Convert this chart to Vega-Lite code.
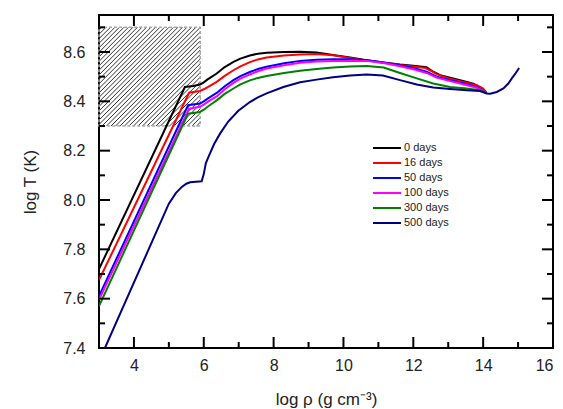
{
  "$schema": "https://vega.github.io/schema/vega-lite/v6.json",
  "width": 454,
  "height": 333,
  "autosize": "none",
  "padding": {"left": 99, "top": 15, "right": 10, "bottom": 61},
  "background": "white",
  "config": {
    "view": {"stroke": "black", "strokeWidth": 2},
    "font": "Liberation Sans",
    "axis": {
      "grid": false,
      "domain": false,
      "ticks": false,
      "tickSize": 0,
      "labelFont": "Liberation Sans",
      "titleFont": "Liberation Sans",
      "labelColor": "#222",
      "titleColor": "#222",
      "labelFontSize": 16,
      "titleFontSize": 17,
      "titleFontWeight": "normal"
    },
    "legend": {"labelFont": "Liberation Sans"}
  },
  "datasets": {
    "hatch": [
      {"x": 3, "y": 8.690, "x2": 3.069, "y2": 8.7},
      {"x": 3, "y": 8.672, "x2": 3.198, "y2": 8.7},
      {"x": 3, "y": 8.654, "x2": 3.326, "y2": 8.7},
      {"x": 3, "y": 8.635, "x2": 3.455, "y2": 8.7},
      {"x": 3, "y": 8.617, "x2": 3.584, "y2": 8.7},
      {"x": 3, "y": 8.599, "x2": 3.713, "y2": 8.7},
      {"x": 3, "y": 8.580, "x2": 3.842, "y2": 8.7},
      {"x": 3, "y": 8.562, "x2": 3.971, "y2": 8.7},
      {"x": 3, "y": 8.544, "x2": 4.100, "y2": 8.7},
      {"x": 3, "y": 8.526, "x2": 4.229, "y2": 8.7},
      {"x": 3, "y": 8.507, "x2": 4.357, "y2": 8.7},
      {"x": 3, "y": 8.489, "x2": 4.486, "y2": 8.7},
      {"x": 3, "y": 8.471, "x2": 4.615, "y2": 8.7},
      {"x": 3, "y": 8.452, "x2": 4.744, "y2": 8.7},
      {"x": 3, "y": 8.434, "x2": 4.873, "y2": 8.7},
      {"x": 3, "y": 8.416, "x2": 5.002, "y2": 8.7},
      {"x": 3, "y": 8.398, "x2": 5.131, "y2": 8.7},
      {"x": 3, "y": 8.379, "x2": 5.259, "y2": 8.7},
      {"x": 3, "y": 8.361, "x2": 5.388, "y2": 8.7},
      {"x": 3, "y": 8.343, "x2": 5.517, "y2": 8.7},
      {"x": 3, "y": 8.324, "x2": 5.646, "y2": 8.7},
      {"x": 3, "y": 8.306, "x2": 5.775, "y2": 8.7},
      {"x": 3.086, "y": 8.3, "x2": 5.9, "y2": 8.700},
      {"x": 3.215, "y": 8.3, "x2": 5.9, "y2": 8.681},
      {"x": 3.344, "y": 8.3, "x2": 5.9, "y2": 8.663},
      {"x": 3.473, "y": 8.3, "x2": 5.9, "y2": 8.645},
      {"x": 3.601, "y": 8.3, "x2": 5.9, "y2": 8.626},
      {"x": 3.730, "y": 8.3, "x2": 5.9, "y2": 8.608},
      {"x": 3.859, "y": 8.3, "x2": 5.9, "y2": 8.590},
      {"x": 3.988, "y": 8.3, "x2": 5.9, "y2": 8.572},
      {"x": 4.117, "y": 8.3, "x2": 5.9, "y2": 8.553},
      {"x": 4.246, "y": 8.3, "x2": 5.9, "y2": 8.535},
      {"x": 4.375, "y": 8.3, "x2": 5.9, "y2": 8.517},
      {"x": 4.503, "y": 8.3, "x2": 5.9, "y2": 8.498},
      {"x": 4.632, "y": 8.3, "x2": 5.9, "y2": 8.480},
      {"x": 4.761, "y": 8.3, "x2": 5.9, "y2": 8.462},
      {"x": 4.890, "y": 8.3, "x2": 5.9, "y2": 8.443},
      {"x": 5.019, "y": 8.3, "x2": 5.9, "y2": 8.425},
      {"x": 5.148, "y": 8.3, "x2": 5.9, "y2": 8.407},
      {"x": 5.277, "y": 8.3, "x2": 5.9, "y2": 8.389},
      {"x": 5.405, "y": 8.3, "x2": 5.9, "y2": 8.370},
      {"x": 5.534, "y": 8.3, "x2": 5.9, "y2": 8.352},
      {"x": 5.663, "y": 8.3, "x2": 5.9, "y2": 8.334},
      {"x": 5.792, "y": 8.3, "x2": 5.9, "y2": 8.315}
    ],
    "box": [{"x": 3, "x2": 5.9, "y": 8.3, "y2": 8.7}],
    "tk": [
      {"id": "b4", "x": 4, "y": 7.4}, {"id": "b4", "x": 4, "y": 7.4446},
      {"id": "b6", "x": 6, "y": 7.4}, {"id": "b6", "x": 6, "y": 7.4446},
      {"id": "b8", "x": 8, "y": 7.4}, {"id": "b8", "x": 8, "y": 7.4446},
      {"id": "b10", "x": 10, "y": 7.4}, {"id": "b10", "x": 10, "y": 7.4446},
      {"id": "b12", "x": 12, "y": 7.4}, {"id": "b12", "x": 12, "y": 7.4446},
      {"id": "b14", "x": 14, "y": 7.4}, {"id": "b14", "x": 14, "y": 7.4446},
      {"id": "b5", "x": 5, "y": 7.4}, {"id": "b5", "x": 5, "y": 7.4243},
      {"id": "b7", "x": 7, "y": 7.4}, {"id": "b7", "x": 7, "y": 7.4243},
      {"id": "b9", "x": 9, "y": 7.4}, {"id": "b9", "x": 9, "y": 7.4243},
      {"id": "b11", "x": 11, "y": 7.4}, {"id": "b11", "x": 11, "y": 7.4243},
      {"id": "b13", "x": 13, "y": 7.4}, {"id": "b13", "x": 13, "y": 7.4243},
      {"id": "b15", "x": 15, "y": 7.4}, {"id": "b15", "x": 15, "y": 7.4243},
      {"id": "t4", "x": 4, "y": 8.75}, {"id": "t4", "x": 4, "y": 8.7054},
      {"id": "t6", "x": 6, "y": 8.75}, {"id": "t6", "x": 6, "y": 8.7054},
      {"id": "t8", "x": 8, "y": 8.75}, {"id": "t8", "x": 8, "y": 8.7054},
      {"id": "t10", "x": 10, "y": 8.75}, {"id": "t10", "x": 10, "y": 8.7054},
      {"id": "t12", "x": 12, "y": 8.75}, {"id": "t12", "x": 12, "y": 8.7054},
      {"id": "t14", "x": 14, "y": 8.75}, {"id": "t14", "x": 14, "y": 8.7054},
      {"id": "t5", "x": 5, "y": 8.75}, {"id": "t5", "x": 5, "y": 8.7257},
      {"id": "t7", "x": 7, "y": 8.75}, {"id": "t7", "x": 7, "y": 8.7257},
      {"id": "t9", "x": 9, "y": 8.75}, {"id": "t9", "x": 9, "y": 8.7257},
      {"id": "t11", "x": 11, "y": 8.75}, {"id": "t11", "x": 11, "y": 8.7257},
      {"id": "t13", "x": 13, "y": 8.75}, {"id": "t13", "x": 13, "y": 8.7257},
      {"id": "t15", "x": 15, "y": 8.75}, {"id": "t15", "x": 15, "y": 8.7257},
      {"id": "l76", "x": 3, "y": 7.6}, {"id": "l76", "x": 3.315, "y": 7.6},
      {"id": "l78", "x": 3, "y": 7.8}, {"id": "l78", "x": 3.315, "y": 7.8},
      {"id": "l80", "x": 3, "y": 8.0}, {"id": "l80", "x": 3.315, "y": 8.0},
      {"id": "l82", "x": 3, "y": 8.2}, {"id": "l82", "x": 3.315, "y": 8.2},
      {"id": "l84", "x": 3, "y": 8.4}, {"id": "l84", "x": 3.315, "y": 8.4},
      {"id": "l86", "x": 3, "y": 8.6}, {"id": "l86", "x": 3.315, "y": 8.6},
      {"id": "l75", "x": 3, "y": 7.5}, {"id": "l75", "x": 3.172, "y": 7.5},
      {"id": "l77", "x": 3, "y": 7.7}, {"id": "l77", "x": 3.172, "y": 7.7},
      {"id": "l79", "x": 3, "y": 7.9}, {"id": "l79", "x": 3.172, "y": 7.9},
      {"id": "l81", "x": 3, "y": 8.1}, {"id": "l81", "x": 3.172, "y": 8.1},
      {"id": "l83", "x": 3, "y": 8.3}, {"id": "l83", "x": 3.172, "y": 8.3},
      {"id": "l85", "x": 3, "y": 8.5}, {"id": "l85", "x": 3.172, "y": 8.5},
      {"id": "l87", "x": 3, "y": 8.7}, {"id": "l87", "x": 3.172, "y": 8.7},
      {"id": "r76", "x": 15.685, "y": 7.6}, {"id": "r76", "x": 16, "y": 7.6},
      {"id": "r78", "x": 15.685, "y": 7.8}, {"id": "r78", "x": 16, "y": 7.8},
      {"id": "r80", "x": 15.685, "y": 8.0}, {"id": "r80", "x": 16, "y": 8.0},
      {"id": "r82", "x": 15.685, "y": 8.2}, {"id": "r82", "x": 16, "y": 8.2},
      {"id": "r84", "x": 15.685, "y": 8.4}, {"id": "r84", "x": 16, "y": 8.4},
      {"id": "r86", "x": 15.685, "y": 8.6}, {"id": "r86", "x": 16, "y": 8.6},
      {"id": "r75", "x": 15.828, "y": 7.5}, {"id": "r75", "x": 16, "y": 7.5},
      {"id": "r77", "x": 15.828, "y": 7.7}, {"id": "r77", "x": 16, "y": 7.7},
      {"id": "r79", "x": 15.828, "y": 7.9}, {"id": "r79", "x": 16, "y": 7.9},
      {"id": "r81", "x": 15.828, "y": 8.1}, {"id": "r81", "x": 16, "y": 8.1},
      {"id": "r83", "x": 15.828, "y": 8.3}, {"id": "r83", "x": 16, "y": 8.3},
      {"id": "r85", "x": 15.828, "y": 8.5}, {"id": "r85", "x": 16, "y": 8.5},
      {"id": "r87", "x": 15.828, "y": 8.7}, {"id": "r87", "x": 16, "y": 8.7}
    ],
    "curves": [
      {"s": "0 days", "x": 3, "y": 7.72},
      {"s": "0 days", "x": 5.46, "y": 8.458},
      {"s": "0 days", "x": 5.7, "y": 8.462},
      {"s": "0 days", "x": 5.89, "y": 8.468},
      {"s": "0 days", "x": 6.0, "y": 8.477},
      {"s": "0 days", "x": 6.1, "y": 8.488},
      {"s": "0 days", "x": 6.2, "y": 8.497},
      {"s": "0 days", "x": 6.37, "y": 8.513},
      {"s": "0 days", "x": 6.6, "y": 8.539},
      {"s": "0 days", "x": 6.85, "y": 8.56},
      {"s": "0 days", "x": 7.05, "y": 8.573},
      {"s": "0 days", "x": 7.32, "y": 8.586},
      {"s": "0 days", "x": 7.55, "y": 8.593},
      {"s": "0 days", "x": 7.8, "y": 8.597},
      {"s": "0 days", "x": 8.3, "y": 8.6},
      {"s": "0 days", "x": 8.76, "y": 8.601},
      {"s": "0 days", "x": 9.23, "y": 8.598},
      {"s": "0 days", "x": 9.7, "y": 8.588},
      {"s": "0 days", "x": 10.19, "y": 8.578},
      {"s": "0 days", "x": 10.67, "y": 8.567},
      {"s": "0 days", "x": 11.15, "y": 8.557},
      {"s": "0 days", "x": 11.62, "y": 8.549},
      {"s": "0 days", "x": 12.0, "y": 8.544},
      {"s": "0 days", "x": 12.38, "y": 8.538},
      {"s": "0 days", "x": 12.57, "y": 8.52},
      {"s": "0 days", "x": 12.77, "y": 8.506},
      {"s": "0 days", "x": 13.34, "y": 8.486},
      {"s": "0 days", "x": 13.72, "y": 8.472},
      {"s": "0 days", "x": 13.96, "y": 8.452},
      {"s": "0 days", "x": 14.1, "y": 8.434},
      {"s": "16 days", "x": 3, "y": 7.675},
      {"s": "16 days", "x": 5.58, "y": 8.435},
      {"s": "16 days", "x": 5.89, "y": 8.442},
      {"s": "16 days", "x": 6.0, "y": 8.449},
      {"s": "16 days", "x": 6.1, "y": 8.457},
      {"s": "16 days", "x": 6.2, "y": 8.465},
      {"s": "16 days", "x": 6.37, "y": 8.479},
      {"s": "16 days", "x": 6.6, "y": 8.503},
      {"s": "16 days", "x": 6.85, "y": 8.526},
      {"s": "16 days", "x": 7.05, "y": 8.542},
      {"s": "16 days", "x": 7.32, "y": 8.559},
      {"s": "16 days", "x": 7.55, "y": 8.57},
      {"s": "16 days", "x": 7.8, "y": 8.578},
      {"s": "16 days", "x": 8.3, "y": 8.586},
      {"s": "16 days", "x": 8.76, "y": 8.59},
      {"s": "16 days", "x": 9.23, "y": 8.592},
      {"s": "16 days", "x": 9.7, "y": 8.587},
      {"s": "16 days", "x": 10.19, "y": 8.576},
      {"s": "16 days", "x": 10.67, "y": 8.565},
      {"s": "16 days", "x": 11.15, "y": 8.556},
      {"s": "16 days", "x": 11.62, "y": 8.547},
      {"s": "16 days", "x": 12.0, "y": 8.541},
      {"s": "16 days", "x": 12.35, "y": 8.535},
      {"s": "16 days", "x": 12.5, "y": 8.524},
      {"s": "16 days", "x": 12.67, "y": 8.51},
      {"s": "16 days", "x": 13.0, "y": 8.494},
      {"s": "16 days", "x": 13.34, "y": 8.482},
      {"s": "16 days", "x": 13.82, "y": 8.465},
      {"s": "16 days", "x": 14.0, "y": 8.452},
      {"s": "16 days", "x": 14.1, "y": 8.434},
      {"s": "50 days", "x": 3, "y": 7.61},
      {"s": "50 days", "x": 5.55, "y": 8.384},
      {"s": "50 days", "x": 5.89, "y": 8.391},
      {"s": "50 days", "x": 6.0, "y": 8.4},
      {"s": "50 days", "x": 6.1, "y": 8.41},
      {"s": "50 days", "x": 6.2, "y": 8.419},
      {"s": "50 days", "x": 6.37, "y": 8.434},
      {"s": "50 days", "x": 6.6, "y": 8.461},
      {"s": "50 days", "x": 6.85, "y": 8.486},
      {"s": "50 days", "x": 7.05, "y": 8.502},
      {"s": "50 days", "x": 7.32, "y": 8.519},
      {"s": "50 days", "x": 7.55, "y": 8.531},
      {"s": "50 days", "x": 7.8, "y": 8.54},
      {"s": "50 days", "x": 8.3, "y": 8.554},
      {"s": "50 days", "x": 8.76, "y": 8.564},
      {"s": "50 days", "x": 9.23, "y": 8.569},
      {"s": "50 days", "x": 9.7, "y": 8.571},
      {"s": "50 days", "x": 10.19, "y": 8.571},
      {"s": "50 days", "x": 10.67, "y": 8.567},
      {"s": "50 days", "x": 11.15, "y": 8.557},
      {"s": "50 days", "x": 11.62, "y": 8.545},
      {"s": "50 days", "x": 12.0, "y": 8.535},
      {"s": "50 days", "x": 12.38, "y": 8.52},
      {"s": "50 days", "x": 12.67, "y": 8.5},
      {"s": "50 days", "x": 13.0, "y": 8.488},
      {"s": "50 days", "x": 13.34, "y": 8.476},
      {"s": "50 days", "x": 13.82, "y": 8.458},
      {"s": "50 days", "x": 14.1, "y": 8.434},
      {"s": "100 days", "x": 3, "y": 7.595},
      {"s": "100 days", "x": 5.58, "y": 8.37},
      {"s": "100 days", "x": 5.89, "y": 8.378},
      {"s": "100 days", "x": 6.0, "y": 8.387},
      {"s": "100 days", "x": 6.1, "y": 8.397},
      {"s": "100 days", "x": 6.2, "y": 8.406},
      {"s": "100 days", "x": 6.37, "y": 8.42},
      {"s": "100 days", "x": 6.6, "y": 8.449},
      {"s": "100 days", "x": 6.85, "y": 8.475},
      {"s": "100 days", "x": 7.05, "y": 8.492},
      {"s": "100 days", "x": 7.32, "y": 8.509},
      {"s": "100 days", "x": 7.55, "y": 8.522},
      {"s": "100 days", "x": 7.8, "y": 8.533},
      {"s": "100 days", "x": 8.3, "y": 8.546},
      {"s": "100 days", "x": 8.76, "y": 8.556},
      {"s": "100 days", "x": 9.23, "y": 8.561},
      {"s": "100 days", "x": 9.7, "y": 8.564},
      {"s": "100 days", "x": 10.19, "y": 8.565},
      {"s": "100 days", "x": 10.67, "y": 8.564},
      {"s": "100 days", "x": 11.15, "y": 8.555},
      {"s": "100 days", "x": 11.62, "y": 8.542},
      {"s": "100 days", "x": 12.0, "y": 8.53},
      {"s": "100 days", "x": 12.38, "y": 8.515},
      {"s": "100 days", "x": 12.67, "y": 8.496},
      {"s": "100 days", "x": 13.0, "y": 8.484},
      {"s": "100 days", "x": 13.34, "y": 8.472},
      {"s": "100 days", "x": 13.82, "y": 8.455},
      {"s": "100 days", "x": 14.1, "y": 8.434},
      {"s": "300 days", "x": 3, "y": 7.57},
      {"s": "300 days", "x": 5.55, "y": 8.35},
      {"s": "300 days", "x": 5.89, "y": 8.357},
      {"s": "300 days", "x": 6.0, "y": 8.366},
      {"s": "300 days", "x": 6.1, "y": 8.377},
      {"s": "300 days", "x": 6.2, "y": 8.387},
      {"s": "300 days", "x": 6.37, "y": 8.404},
      {"s": "300 days", "x": 6.6, "y": 8.43},
      {"s": "300 days", "x": 6.85, "y": 8.452},
      {"s": "300 days", "x": 7.05, "y": 8.469},
      {"s": "300 days", "x": 7.32, "y": 8.485},
      {"s": "300 days", "x": 7.55, "y": 8.495},
      {"s": "300 days", "x": 7.8, "y": 8.503},
      {"s": "300 days", "x": 8.3, "y": 8.515},
      {"s": "300 days", "x": 8.76, "y": 8.524},
      {"s": "300 days", "x": 9.23, "y": 8.531},
      {"s": "300 days", "x": 9.7, "y": 8.537},
      {"s": "300 days", "x": 10.19, "y": 8.541},
      {"s": "300 days", "x": 10.67, "y": 8.543},
      {"s": "300 days", "x": 11.15, "y": 8.537},
      {"s": "300 days", "x": 11.62, "y": 8.515},
      {"s": "300 days", "x": 12.1, "y": 8.493},
      {"s": "300 days", "x": 12.57, "y": 8.472},
      {"s": "300 days", "x": 13.05, "y": 8.458},
      {"s": "300 days", "x": 13.53, "y": 8.452},
      {"s": "300 days", "x": 13.91, "y": 8.445},
      {"s": "300 days", "x": 14.1, "y": 8.434},
      {"s": "500 days", "x": 3.17, "y": 7.4},
      {"s": "500 days", "x": 5.0, "y": 7.985},
      {"s": "500 days", "x": 5.2, "y": 8.028},
      {"s": "500 days", "x": 5.37, "y": 8.053},
      {"s": "500 days", "x": 5.5, "y": 8.066},
      {"s": "500 days", "x": 5.61, "y": 8.072},
      {"s": "500 days", "x": 5.94, "y": 8.076},
      {"s": "500 days", "x": 6.0, "y": 8.105},
      {"s": "500 days", "x": 6.06, "y": 8.15},
      {"s": "500 days", "x": 6.15, "y": 8.18},
      {"s": "500 days", "x": 6.3, "y": 8.228},
      {"s": "500 days", "x": 6.47, "y": 8.27},
      {"s": "500 days", "x": 6.7, "y": 8.318},
      {"s": "500 days", "x": 6.99, "y": 8.362},
      {"s": "500 days", "x": 7.32, "y": 8.397},
      {"s": "500 days", "x": 7.55, "y": 8.416},
      {"s": "500 days", "x": 7.8, "y": 8.432},
      {"s": "500 days", "x": 8.28, "y": 8.458},
      {"s": "500 days", "x": 8.76, "y": 8.477},
      {"s": "500 days", "x": 9.23, "y": 8.488},
      {"s": "500 days", "x": 9.7, "y": 8.498},
      {"s": "500 days", "x": 10.19, "y": 8.505},
      {"s": "500 days", "x": 10.67, "y": 8.509},
      {"s": "500 days", "x": 11.13, "y": 8.505},
      {"s": "500 days", "x": 11.62, "y": 8.486},
      {"s": "500 days", "x": 12.1, "y": 8.468},
      {"s": "500 days", "x": 12.57, "y": 8.456},
      {"s": "500 days", "x": 13.05, "y": 8.45},
      {"s": "500 days", "x": 13.53, "y": 8.445},
      {"s": "500 days", "x": 13.91, "y": 8.442},
      {"s": "500 days", "x": 14.1, "y": 8.432},
      {"s": "500 days", "x": 14.2, "y": 8.431},
      {"s": "500 days", "x": 14.39, "y": 8.438},
      {"s": "500 days", "x": 14.58, "y": 8.452},
      {"s": "500 days", "x": 14.72, "y": 8.472},
      {"s": "500 days", "x": 14.82, "y": 8.493},
      {"s": "500 days", "x": 14.91, "y": 8.51},
      {"s": "500 days", "x": 15.03, "y": 8.535}
    ]
  },
  "layer": [
    {
      "data": {"name": "hatch"},
      "mark": {"type": "rule", "stroke": "#333", "strokeWidth": 1},
      "encoding": {
        "x": {
          "field": "x", "type": "quantitative",
          "scale": {"domain": [3, 16], "nice": false, "zero": false},
          "axis": {
            "orient": "bottom",
            "values": [4, 6, 8, 10, 12, 14, 16],
            "labelPadding": 9,
            "title": "log ρ (g cm⁻³)",
            "titlePadding": 18
          }
        },
        "y": {
          "field": "y", "type": "quantitative",
          "scale": {"domain": [7.4, 8.75], "nice": false, "zero": false},
          "axis": {
            "orient": "left",
            "values": [7.4, 7.6, 7.8, 8.0, 8.2, 8.4, 8.6],
            "format": ".1f",
            "labelPadding": 14,
            "title": "log T (K)",
            "titlePadding": 23
          }
        },
        "x2": {"field": "x2"},
        "y2": {"field": "y2"}
      }
    },
    {
      "data": {"name": "box"},
      "mark": {"type": "rect", "fill": "white", "fillOpacity": 0, "stroke": "#aaaaaa", "strokeWidth": 1.5, "strokeDash": [3, 2]},
      "encoding": {
        "x": {"field": "x", "type": "quantitative"},
        "x2": {"field": "x2"},
        "y": {"field": "y", "type": "quantitative"},
        "y2": {"field": "y2"}
      }
    },
    {
      "data": {"name": "curves"},
      "mark": {"type": "line", "strokeWidth": 2, "interpolate": "linear", "clip": true},
      "encoding": {
        "x": {"field": "x", "type": "quantitative"},
        "y": {"field": "y", "type": "quantitative"},
        "color": {
          "field": "s", "type": "nominal",
          "scale": {
            "domain": ["0 days", "16 days", "50 days", "100 days", "300 days", "500 days"],
            "range": ["#000000", "#ff0000", "#0000ff", "#ff00ff", "#008000", "#000080"]
          },
          "legend": {
            "title": null,
            "orient": "none",
            "legendX": 282,
            "legendY": 127,
            "symbolType": "M-2.8,0H2.8",
            "symbolSize": 100,
            "symbolStrokeWidth": 2,
            "labelFontSize": 11,
            "labelColor": "#222",
            "labelOffset": 11,
            "rowPadding": 4
          }
        }
      }
    },
    {
      "data": {"name": "tk"},
      "mark": {"type": "line", "stroke": "#000000", "strokeWidth": 2, "interpolate": "linear"},
      "encoding": {
        "x": {"field": "x", "type": "quantitative"},
        "y": {"field": "y", "type": "quantitative"},
        "detail": {"field": "id", "type": "nominal"}
      }
    }
  ]
}
